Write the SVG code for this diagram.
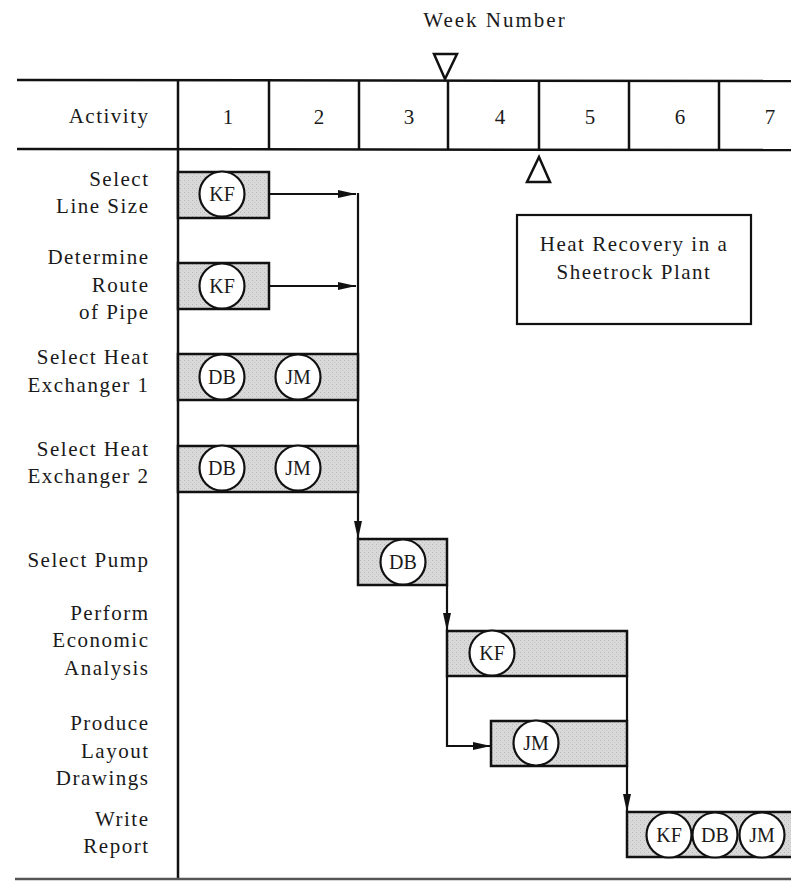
<svg xmlns="http://www.w3.org/2000/svg" width="791" height="881" viewBox="0 0 791 881">
<defs>
<pattern id="stip" width="4" height="4" patternUnits="userSpaceOnUse">
<rect width="4" height="4" fill="#d9d9d9"/>
<rect x="0" y="0" width="1" height="1" fill="#b8b8b8"/>
<rect x="2" y="2" width="1" height="1" fill="#c4c4c4"/>
</pattern>
<marker id="ah" markerUnits="userSpaceOnUse" markerWidth="20" markerHeight="10" refX="18" refY="5" orient="auto">
<path d="M0,1 L18,5 L0,9 z" fill="#111"/>
</marker>
</defs>
<style>
text{font-family:"Liberation Serif","Times New Roman",serif;fill:#1a1a1a;}
.lbl{font-size:21px;text-anchor:end;letter-spacing:1.5px;}
.hd{font-size:21px;text-anchor:middle;}
.ini{font-size:20px;text-anchor:middle;}
.ln{stroke:#111;stroke-width:2.5;fill:none;}
.bar{fill:url(#stip);stroke:#111;stroke-width:2.5;}
.cir{fill:#fff;stroke:#111;stroke-width:2.2;}
.con{stroke:#111;stroke-width:2.2;fill:none;}
</style>
<rect width="791" height="881" fill="#fff"/>

<g id="header">
<text x="495" y="27" class="hd" font-size="20" letter-spacing="2">Week Number</text>
<line class="ln" x1="17" y1="80" x2="791" y2="81"/>
<line class="ln" x1="17" y1="149" x2="791" y2="150"/>
<line class="ln" x1="178" y1="80" x2="178" y2="879"/>
<line class="ln" x1="269" y1="80" x2="269" y2="149"/>
<line class="ln" x1="359" y1="80" x2="359" y2="149"/>
<line class="ln" x1="448" y1="80" x2="448" y2="149"/>
<line class="ln" x1="539" y1="80" x2="539" y2="150"/>
<line class="ln" x1="629" y1="80" x2="629" y2="150"/>
<line class="ln" x1="719" y1="80" x2="719" y2="150"/>
<text x="149.5" y="123" class="lbl">Activity</text>
<text x="228" y="124" class="hd">1</text>
<text x="319" y="124" class="hd">2</text>
<text x="409" y="124" class="hd">3</text>
<text x="500" y="124" class="hd">4</text>
<text x="590" y="124" class="hd">5</text>
<text x="680" y="124" class="hd">6</text>
<text x="770" y="124" class="hd">7</text>
<path d="M434,54 L457,54 L445,79 z" fill="#fff" stroke="#111" stroke-width="2.5" stroke-linejoin="miter"/>
<path d="M539,157 L550,182 L527,182 z" fill="#fff" stroke="#111" stroke-width="2.5"/>
<line x1="15" y1="879" x2="791" y2="879" stroke="#555" stroke-width="2.5"/>
</g>

<g id="title">
<rect x="517" y="215" width="234" height="109" fill="#fff" stroke="#111" stroke-width="2.2"/>
<text x="634" y="251" class="hd" font-size="20" letter-spacing="1.5">Heat Recovery in a</text>
<text x="634" y="279" class="hd" font-size="20" letter-spacing="1.5">Sheetrock Plant</text>
</g>

<g id="connectors">
<line class="con" x1="269" y1="194" x2="356" y2="194" marker-end="url(#ah)"/>
<line class="con" x1="269" y1="286" x2="356" y2="286" marker-end="url(#ah)"/>
<line class="con" x1="358" y1="193" x2="358" y2="539" marker-end="url(#ah)"/>
<line class="con" x1="447" y1="585" x2="447" y2="631" marker-end="url(#ah)"/>
<polyline class="con" points="447,676 447,746 491,746" marker-end="url(#ah)"/>
<line class="con" x1="627" y1="676" x2="627" y2="721"/>
<line class="con" x1="627" y1="766" x2="627" y2="812" marker-end="url(#ah)"/>
</g>

<g id="select-line-size">
<text x="149.5" y="186" class="lbl">Select</text>
<text x="149.5" y="213" class="lbl">Line Size</text>
<rect class="bar" x="178" y="172" width="91" height="46"/>
<circle class="cir" cx="222" cy="194" r="22.5"/>
<text x="222" y="201" class="ini">KF</text>
</g>

<g id="determine-route">
<text x="149.5" y="264" class="lbl">Determine</text>
<text x="149.5" y="292" class="lbl">Route</text>
<text x="149.5" y="319" class="lbl">of Pipe</text>
<rect class="bar" x="178" y="263" width="91" height="46"/>
<circle class="cir" cx="222" cy="286" r="22.5"/>
<text x="222" y="293" class="ini">KF</text>
</g>

<g id="select-hx1">
<text x="149.5" y="364" class="lbl">Select Heat</text>
<text x="149.5" y="392" class="lbl">Exchanger  1</text>
<rect class="bar" x="178" y="354" width="180" height="46"/>
<circle class="cir" cx="222" cy="377" r="22.5"/>
<text x="222" y="384" class="ini">DB</text>
<circle class="cir" cx="298" cy="377" r="22.5"/>
<text x="298" y="384" class="ini">JM</text>
</g>

<g id="select-hx2">
<text x="149.5" y="456" class="lbl">Select Heat</text>
<text x="149.5" y="483" class="lbl">Exchanger 2</text>
<rect class="bar" x="178" y="446" width="180" height="46"/>
<circle class="cir" cx="222" cy="468" r="22.5"/>
<text x="222" y="475" class="ini">DB</text>
<circle class="cir" cx="298" cy="468" r="22.5"/>
<text x="298" y="475" class="ini">JM</text>
</g>

<g id="select-pump">
<text x="149.5" y="567" class="lbl">Select Pump</text>
<rect class="bar" x="358" y="539" width="89" height="46"/>
<circle class="cir" cx="403" cy="562" r="22.5"/>
<text x="403" y="569" class="ini">DB</text>
</g>

<g id="economic-analysis">
<text x="149.5" y="620" class="lbl">Perform</text>
<text x="149.5" y="647" class="lbl">Economic</text>
<text x="149.5" y="675" class="lbl">Analysis</text>
<rect class="bar" x="447" y="631" width="180" height="45"/>
<circle class="cir" cx="492" cy="653" r="22.5"/>
<text x="492" y="660" class="ini">KF</text>
</g>

<g id="layout-drawings">
<text x="149.5" y="730" class="lbl">Produce</text>
<text x="149.5" y="758" class="lbl">Layout</text>
<text x="149.5" y="785" class="lbl">Drawings</text>
<rect class="bar" x="491" y="721" width="136" height="45"/>
<circle class="cir" cx="536" cy="743" r="22.5"/>
<text x="536" y="750" class="ini">JM</text>
</g>

<g id="write-report">
<text x="149.5" y="826" class="lbl">Write</text>
<text x="149.5" y="853" class="lbl">Report</text>
<rect class="bar" x="627" y="812" width="170" height="45"/>
<circle class="cir" cx="669" cy="835" r="22.5"/>
<text x="669" y="842" class="ini">KF</text>
<circle class="cir" cx="715" cy="835" r="22.5"/>
<text x="715" y="842" class="ini">DB</text>
<circle class="cir" cx="762" cy="835" r="22.5"/>
<text x="762" y="842" class="ini">JM</text>
</g>
</svg>
